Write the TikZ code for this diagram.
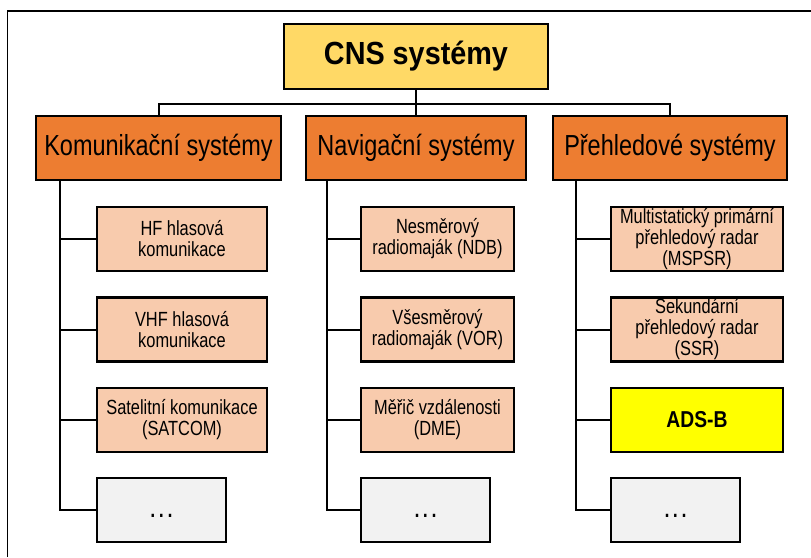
\documentclass[tikz,border=0pt]{standalone}
\usepackage{fontspec}
\setmainfont{Liberation Sans}[FakeStretch=0.8]
\newfontfamily\catfont{Liberation Sans}[FakeStretch=0.81]
\newfontfamily\titlefont{Liberation Sans}[FakeStretch=0.9]
\newfontfamily\adsfont{Liberation Sans}[FakeStretch=0.84]
\definecolor{cnsyellow}{HTML}{FFD966}
\definecolor{catorange}{HTML}{ED7D31}
\definecolor{itempeach}{HTML}{F8CBAD}
\definecolor{adsyellow}{HTML}{FFFF00}
\definecolor{moregray}{HTML}{F2F2F2}
\newcommand{\moredots}{\raisebox{-7pt}[0pt][0pt]{.\kern1.5pt.\kern1.5pt.}}
\begin{document}
\begin{tikzpicture}[x=1pt,y=-1pt,
  box/.style={draw=black, line width=2.2pt, inner sep=0pt, align=center},
  cnsbox/.style={box, fill=cnsyellow, minimum width=264pt, minimum height=65pt,
    font=\titlefont\bfseries\fontsize{32}{36}\selectfont},
  catbox/.style={box, fill=catorange, minimum height=64pt,
    font=\catfont\fontsize{29}{33}\selectfont},
  itembox/.style={box, fill=itempeach, minimum height=64pt,
    font=\fontsize{20.5}{21}\selectfont},
  adsbox/.style={box, fill=adsyellow, minimum height=64pt,
    font=\adsfont\bfseries\fontsize{23}{26}\selectfont},
  morebox/.style={box, fill=moregray, minimum width=129pt, minimum height=64pt,
    font=\adsfont\fontsize{30}{32}\selectfont},
  link/.style={line width=2pt, draw=black}]
\useasboundingbox (0,0) rectangle (811,557);

% outer frame
\draw[line width=1.8pt] (7.5,557) -- (7.5,11) -- (811,11);

% root and categories
\node[cnsbox] (cns) at (416,56.5) {CNS systémy};
\node[catbox, minimum width=245pt] (kom) at (158.5,148) {Komunikační systémy};
\node[catbox, minimum width=220pt] (nav) at (416,148) {Navigační systémy};
\node[catbox, minimum width=234pt] (pre) at (670,148) {Přehledové systémy};

% communication systems
\node[itembox, minimum width=170pt] (k1) at (182,239) {HF hlasová\\komunikace};
\node[itembox, minimum width=170pt] (k2) at (182,329.5) {VHF hlasová\\komunikace};
\node[itembox, minimum width=170pt] (k3) at (182,420) {Satelitní komunikace\\(SATCOM)};
\node[morebox] (k4) at (161.5,510) {\moredots};

% navigation systems
\node[itembox, minimum width=153pt] (n1) at (437.5,239) {Nesměrový\\radiomaják (NDB)};
\node[itembox, minimum width=153pt] (n2) at (437.5,329.5) {Všesměrový\\radiomaják (VOR)};
\node[itembox, minimum width=153pt] (n3) at (437.5,420) {Měřič vzdálenosti\\(DME)};
\node[morebox] (n4) at (425.5,510) {\moredots};

% surveillance systems
\node[itembox, minimum width=172pt] (p1) at (697,239) {Multistatický primární\\přehledový radar\\(MSPSR)};
\node[itembox, minimum width=172pt] (p2) at (697,329.5) {Sekundární\\přehledový radar\\(SSR)};
\node[adsbox, minimum width=172pt] (p3) at (697,420) {ADS-B};
\node[morebox] (p4) at (675.5,510) {\moredots};

% root to categories
\path (cns.south) ++(0,14) coordinate (bus);
\draw[link] (kom.north) |- (bus) -| (pre.north);
\draw[link] (cns.south) -- (nav.north);

% category trunks and branches
\coordinate (kt) at ([xshift=25pt]kom.south west);
\coordinate (nt) at ([xshift=22pt]nav.south west);
\coordinate (pt) at ([xshift=24pt]pre.south west);
\draw[link] (kt) |- (k4.west);
\draw[link] (nt) |- (n4.west);
\draw[link] (pt) |- (p4.west);
\foreach \n in {k1,k2,k3} \draw[link] (kt |- \n.west) -- (\n.west);
\foreach \n in {n1,n2,n3} \draw[link] (nt |- \n.west) -- (\n.west);
\foreach \n in {p1,p2,p3} \draw[link] (pt |- \n.west) -- (\n.west);
\end{tikzpicture}
\end{document}
